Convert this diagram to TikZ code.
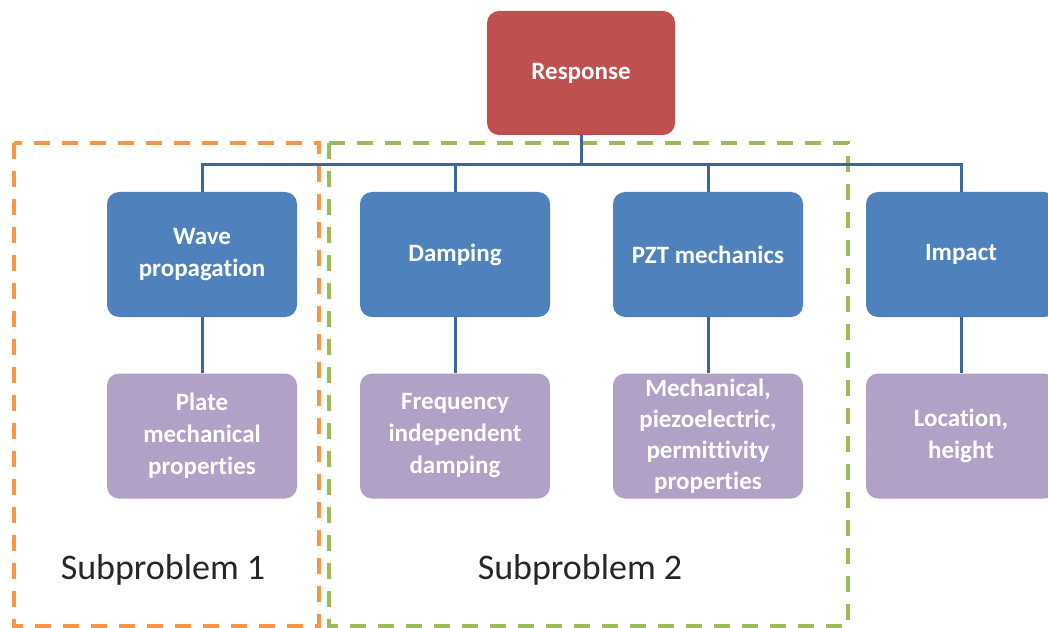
\documentclass[tikz,border=0pt]{standalone}
\usepackage{fontspec}
\setmainfont[Ligatures={NoCommon}]{Carlito}
\definecolor{resp}{HTML}{C0504D}
\definecolor{bluebox}{HTML}{4F81BD}
\definecolor{purplebox}{HTML}{B2A1C7}
\definecolor{linec}{HTML}{3C679B}
\definecolor{orangec}{HTML}{F79646}
\definecolor{greenc}{HTML}{9BBB59}
\tikzset{
  box/.style={rectangle, rounded corners=12pt, minimum width=190pt, minimum height=125pt,
    inner sep=0pt, text=white, align=center, font=\fontsize{25}{32}\selectfont\bfseries},
  rbox/.style={box, fill=resp, minimum width=188pt, minimum height=124pt},
  bbox/.style={box, fill=bluebox},
  pbox/.style={box, fill=purplebox},
  mbox/.style={pbox, font=\fontsize{25}{31}\selectfont\bfseries},
  conn/.style={draw=linec, line width=3pt},
  subframe/.style={line width=4pt, dash pattern=on 16pt off 12pt},
  sublabel/.style={font=\fontsize{36}{40}\selectfont, text=black!85}
}
\begin{document}
\begin{tikzpicture}[x=1pt,y=-1pt]
\useasboundingbox (0,0) rectangle (1048,628);
\clip (0,0) rectangle (1048,628);
\fill[white] (0,0) rectangle (1048,628);
% dashed frames
\draw[subframe, draw=orangec] (14,143) rectangle (319,626);
\draw[subframe, draw=greenc] (329,143) rectangle (848,626);
% nodes
\node[rbox] (resp) at (581,73) {Response};
\node[bbox] (wave) at (202,254.5) {Wave\\propagation};
\node[bbox] (damp) at (455,254.5) {Damping};
\node[bbox] (pzt) at (708,254.5) {PZT mechanics};
\node[bbox] (imp) at (961,254.5) {Impact};
\node[pbox] (plate) at (202,436) {Plate\\mechanical\\properties};
\node[pbox] (freq) at (455,436) {Frequency\\independent\\damping};
\node[mbox] (mech) at (708,436) {Mechanical,\\piezoelectric,\\permittivity\\properties};
\node[pbox] (loc) at (961,436) {Location,\\height};
% connectors
\coordinate (bus) at (581,165);
\draw[conn] (resp.south) -- (bus);
\draw[conn] (wave.north) |- (bus) -| (imp.north);
\draw[conn] (damp.north) -- (damp.north |- bus);
\draw[conn] (pzt.north) -- (pzt.north |- bus);
\draw[conn] (wave.south) -- (plate.north);
\draw[conn] (damp.south) -- (freq.north);
\draw[conn] (pzt.south) -- (mech.north);
\draw[conn] (imp.south) -- (loc.north);
% labels
\node[sublabel] (s1) at (163,570) {Subproblem 1};
\node[sublabel] (s2) at (580,570) {Subproblem 2};
\end{tikzpicture}
\end{document}
